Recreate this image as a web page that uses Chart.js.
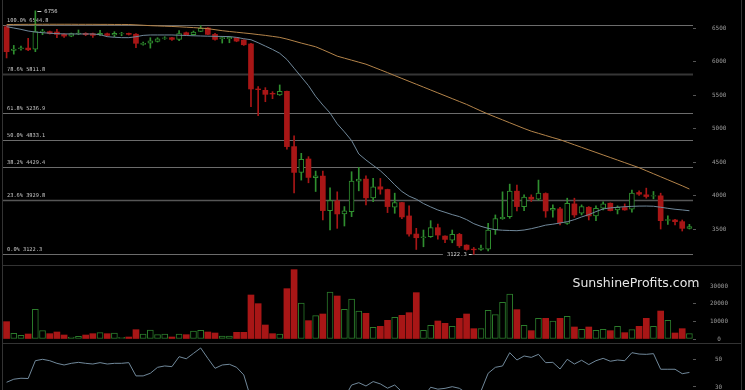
<!DOCTYPE html>
<html lang="en">
<head>
<meta charset="UTF-8">
<title>BTC daily - Fibonacci retracements</title>
<script src="https://cdn.jsdelivr.net/npm/chart.js"></script>
<style>
  body { margin: 0; background: #000; }
  .chart-wrap { position: relative; width: 745px; height: 390px; background: #000; }
</style>
</head>
<body>
<div class="chart-wrap"><canvas id="btcChart"></canvas></div>
<script>
// ===== price data (daily candles) =====
const opens = [6520,6165,6190,6200,6183,6440,6445,6440,6405,6380, 6410,6420,6415,6395,6415,6395,6410,6420,6407,6255,
  6275,6300,6345,6355,6330,6430,6400,6450,6500,6405, 6340,6340,6355,6320,6262,5590,5570,5525,5500,5555,
  4730,4345,4545,4265,4290,3775,3920,3725,3760,4215, 4245,3965,4130,4090,3825,3895,3695,3425,3370,3385,
  3520,3395,3335,3420,3260,3200,3195,3200,3490,3655, 3685,4065,3835,3975,3945,4030,3780,3800,3585,3875,
  3735,3825,3695,3810,3885,3785,3820,3795,4045,4010, 3990,3995,3630,3635,3610,3510];
const highs = [6535,6240,6230,6347,6756,6480,6455,6480,6415,6425, 6470,6430,6425,6465,6425,6445,6435,6425,6415,6290,
  6355,6355,6370,6360,6460,6440,6455,6535,6505,6420, 6375,6375,6360,6325,6270,5625,5610,5550,5650,5560,
  4890,4630,4580,4365,4365,4115,4055,3835,4355,4420, 4295,4255,4255,4095,4035,3900,3845,3510,3485,3625,
  3575,3400,3485,3435,3265,3225,3260,3585,3710,4055, 4170,4155,4010,4010,4230,4040,3860,3825,3960,3960,
  3860,3835,3845,3905,3890,3845,3875,4080,4070,4110, 4060,4035,3695,3645,3635,3570];
const lows = [6053,6110,6170,6160,6147,6400,6410,6355,6360,6370, 6400,6385,6360,6385,6380,6370,6385,6395,6207,6245,
  6200,6290,6330,6315,6310,6395,6390,6445,6400,6320, 6275,6280,6295,6240,5326,5190,5400,5445,5495,4690,
  4040,4230,4190,4060,3635,3485,3510,3545,3685,4070, 3860,3910,4020,3745,3735,3655,3395,3195,3235,3375,
  3350,3295,3295,3225,3135,3122.3,3180,3175,3420,3645, 3660,3770,3775,3910,3930,3675,3675,3560,3570,3675,
  3710,3635,3625,3785,3770,3725,3780,3750,4000,3960, 3950,3500,3570,3560,3470,3500];
const closes = [6147,6185,6205,6175,6446,6455,6420,6405,6380,6415, 6425,6400,6390,6420,6390,6420,6416,6405,6272,6270,
  6310,6340,6355,6330,6415,6400,6440,6495,6405,6330, 6356,6360,6305,6250,5590,5580,5510,5515,5555,4730,
  4345,4540,4270,4295,3775,3925,3725,3770,4215,4245, 3965,4130,4095,3835,3895,3680,3425,3370,3385,3520,
  3410,3345,3420,3250,3195,3190,3215,3485,3655,3675, 4065,3835,3975,3945,4035,3770,3810,3595,3885,3710,
  3835,3695,3810,3875,3775,3825,3785,4035,4020,3985, 4000,3625,3640,3610,3510,3535];
const volumes = [9850,3220,2080,2840,16860,4730,3030,3980,2270,1140, 1520,2270,3030,3600,3030,3410,950,1140,5300,2840,
  5110,2460,2840,1140,2840,2460,4550,4920,3980,3410, 1700,1700,3790,3790,25000,20080,7950,3030,2840,28600,
  39400,20450,10420,13260,14200,26700,24430,16860,22730,15900, 14580,6630,7200,10600,12300,13450,14960,26330,4920,7770,
  10230,8900,7200,11740,14200,5870,5870,16290,13830,20830, 25570,16670,7770,4730,11740,11740,10230,11740,12880,6820,
  5490,6820,4920,5490,4730,7200,3600,5300,7200,11740, 7200,15900,10600,3410,5870,3030];

// moving averages
const maShort = [6520,6500,6480,6455,6440,6430,6422,6416,6412,6411, 6411,6411,6411,6400,6371,6362,6356,6356,6370,6390,
  6396,6396,6396,6396,6392,6388,6384,6381,6378,6376, 6374,6372,6360,6340,6325,6280,6230,6180,6123,6030,
  5900,5770,5640,5480,5350,5232,5070,4950,4820,4620, 4530,4450,4370,4270,4160,4060,3990,3945,3880,3830,
  3784,3750,3715,3685,3640,3580,3540,3510,3490,3482, 3478,3475,3485,3505,3530,3558,3572,3590,3609,3640,
  3680,3715,3760,3800,3815,3825,3833,3838,3842,3843, 3840,3825,3809,3795,3785,3773];
const maLong = [6552,6553,6554,6555,6555,6556,6556,6556,6556,6556, 6555,6555,6555,6554,6554,6553,6553,6552,6547,6541,
  6535,6531,6527,6523,6518,6512,6506,6499,6490,6475, 6460,6448,6437,6426,6415,6402,6390,6375,6360,6335,
  6305,6275,6248,6220,6175,6128,6080,6050,6020,5990, 5960,5918,5876,5834,5790,5747,5704,5661,5618,5575,
  5532,5489,5446,5403,5360,5311,5262,5215,5172,5129, 5086,5043,5000,4960,4928,4896,4864,4833,4795,4757,
  4719,4681,4643,4605,4567,4529,4491,4453,4415,4370, 4325,4280,4235,4190,4145,4097];
const rsi = [33.4,35.6,36.3,36.1,49.0,50.0,49.0,47.1,45.9,47.1, 47.8,47.1,46.6,47.6,46.6,47.1,47.1,47.6,38.0,38.0,
  39.9,44.2,45.2,44.7,51.9,50.4,54.3,58.2,50.7,43.5, 45.9,46.4,44.2,38.7,21.5,19.0,18.5,18.8,21.0,14.5,
  12.0,17.5,16.0,17.0,13.5,17.0,16.5,22.0,31.4,33.1, 30.7,33.9,32.2,29.1,31.4,26.5,24.5,21.0,22.5,29.8,
  28.4,29.0,30.2,29.0,25.5,24.0,27.0,39.9,44.2,45.2, 54.8,49.5,52.4,51.4,53.6,47.6,47.8,43.0,50.0,46.6,
  49.3,46.2,49.0,50.7,48.6,49.5,49.0,54.8,53.8,53.6, 54.1,42.8,42.8,42.8,39.6,40.5];

const fibLevels = [6544.8, 5811.8, 5236.9, 4833.1, 4429.4, 3929.8, 3122.3];
const fibNames = ['100.0%', '78.6%', '61.8%', '50.0%', '38.2%', '23.6%', '0.0%'];
const priceTicks = [3500, 4000, 4500, 5000, 5500, 6000, 6500];
const volumeTicks = [0, 10000, 20000, 30000];
const rsiTicks = [30, 50];
const days = opens.map((_, i) => i + 1);

const RED = '#a81616';
const GREEN = '#2f8f2f';
const VOL_GREEN = '#2b7b2b';
const up = i => closes[i] >= opens[i];

const tickFont = { family: 'DejaVu Sans Mono', size: 6 };
const fixAxis = s => { s.width = 52; s.paddingTop = 0; s.paddingBottom = 0; };

// fib lines + labels, watermark
const fibPlugin = {
    id: 'fibLines',
    beforeDatasetsDraw(chart) {
        const { ctx, chartArea, scales } = chart;
        const y = scales.y;
        ctx.save();
        fibLevels.forEach((lvl, i) => {
            const py = Math.round(y.getPixelForValue(lvl)) + 0.5;
            if (i === 1) { ctx.strokeStyle = '#363636'; ctx.lineWidth = 2; }
            else if (i === 5) { ctx.strokeStyle = '#565656'; ctx.lineWidth = 1.5; }
            else { ctx.strokeStyle = '#6c6c6c'; ctx.lineWidth = 1; }
            ctx.beginPath();
            ctx.moveTo(chartArea.left, py);
            ctx.lineTo(chartArea.right, py);
            ctx.stroke();
            ctx.fillStyle = '#c8c8c8';
            ctx.font = '5.3px "DejaVu Sans Mono"';
            ctx.textBaseline = 'bottom';
            ctx.textAlign = 'left';
            ctx.fillText(fibNames[i] + ' ' + lvl.toFixed(1), chartArea.left + 4, py - 2);
        });

        // watermark
        const v = scales.yVol;
        ctx.fillStyle = '#e6e6e6';
        ctx.font = '12.5px "DejaVu Sans"';
        ctx.textAlign = 'center';
        ctx.textBaseline = 'middle';
        ctx.fillText('SunshineProfits.com', chartArea.right - 57, v.top + 19);
        ctx.restore();
    }
};

// high / low markers and panel frame
const markPlugin = {
    id: 'marks',
    afterDatasetsDraw(chart) {
        const { ctx, scales: { x, y } } = chart;
        ctx.save();
        ctx.font = '5.5px "DejaVu Sans Mono"';
        ctx.textBaseline = 'middle';

        const hi = highs.indexOf(Math.max(...highs));
        const hx = x.getPixelForValue(hi), hy = Math.round(y.getPixelForValue(highs[hi])) + 0.5;
        ctx.strokeStyle = '#cfcfcf'; ctx.lineWidth = 1;
        ctx.beginPath(); ctx.moveTo(hx + 2, hy); ctx.lineTo(hx + 6, hy); ctx.stroke();
        ctx.fillStyle = '#d8d8d8'; ctx.textAlign = 'left';
        ctx.fillText(String(highs[hi]), hx + 9, hy);

        const lo = lows.indexOf(Math.min(...lows));
        const lx = x.getPixelForValue(lo), ly = Math.round(y.getPixelForValue(lows[lo])) + 0.5;
        const txt = String(lows[lo]);
        const tw = ctx.measureText(txt).width;
        ctx.fillStyle = '#000';
        ctx.fillRect(lx - tw - 11, ly - 4, tw + 9, 8);
        ctx.fillStyle = '#cfcfcf'; ctx.textAlign = 'right';
        ctx.fillText(txt, lx - 7, ly);
        ctx.beginPath(); ctx.moveTo(lx - 5, ly); ctx.lineTo(lx - 2, ly); ctx.stroke();
        ctx.restore();
    },
    afterDraw(chart) {
        const { ctx, chartArea, scales } = chart;
        ctx.save();
        ctx.strokeStyle = '#333';
        ctx.lineWidth = 1;
        [scales.yVol.top, scales.yRsi.top].forEach(t => {
            const py = Math.round(t) + 0.5;
            ctx.beginPath(); ctx.moveTo(chartArea.left - 1, py); ctx.lineTo(742, py); ctx.stroke();
        });
        ctx.beginPath();
        ctx.moveTo(chartArea.left - 0.5, 0); ctx.lineTo(chartArea.left - 0.5, chartArea.bottom);
        ctx.moveTo(741.5, 0); ctx.lineTo(741.5, chartArea.bottom);
        ctx.stroke();
        ctx.restore();
    }
};

const axisTicks = (padding) => ({
    color: '#9a9a9a', font: tickFont, padding: padding, crossAlign: 'center',
    autoSkip: false, callback: v => String(v)
});

new Chart(document.getElementById('btcChart'), {
    type: 'bar',
    data: {
        labels: days,
        datasets: [
            {
                type: 'line', label: 'MA short', data: maShort, yAxisID: 'y',
                borderColor: '#70889a', borderWidth: 1, pointRadius: 0, tension: 0, order: 0
            },
            {
                type: 'line', label: 'MA long', data: maLong, yAxisID: 'y',
                borderColor: '#b4844a', borderWidth: 1, pointRadius: 0, tension: 0, order: 0
            },
            {
                label: 'body', data: opens.map((o, i) => [o, closes[i]]), yAxisID: 'y',
                grouped: false, barThickness: 5, borderSkipped: false, order: 1,
                backgroundColor: c => up(c.dataIndex) ? '#000' : RED,
                borderColor: c => up(c.dataIndex) ? GREEN : RED,
                borderWidth: c => up(c.dataIndex) ? 1 : 0
            },
            {
                label: 'wick', data: lows.map((l, i) => [l, highs[i]]), yAxisID: 'y',
                grouped: false, barThickness: 1, order: 2,
                backgroundColor: c => up(c.dataIndex) ? GREEN : RED
            },
            {
                label: 'Volume', data: volumes, yAxisID: 'yVol',
                grouped: false, barThickness: 6, borderSkipped: false, order: 1,
                backgroundColor: c => up(c.dataIndex) ? '#000' : RED,
                borderColor: c => up(c.dataIndex) ? VOL_GREEN : RED,
                borderWidth: c => up(c.dataIndex) ? 1 : 0
            },
            {
                type: 'line', label: 'RSI', data: rsi, yAxisID: 'yRsi',
                borderColor: '#70889a', borderWidth: 1, pointRadius: 0, tension: 0, order: 0
            }
        ]
    },
    options: {
        responsive: true,
        maintainAspectRatio: false,
        animation: false,
        layout: { padding: { left: 3, top: 0, right: 0, bottom: 0 } },
        plugins: { legend: { display: false }, tooltip: { enabled: false } },
        scales: {
            x: { type: 'category', offset: true, display: false, grid: { display: false } },
            y: {
                position: 'right', stack: 'panels', stackWeight: 265, min: 2963, max: 6918,
                afterBuildTicks: s => { s.ticks = priceTicks.map(v => ({ value: v })); },
                afterFit: fixAxis,
                grid: { drawOnChartArea: false, tickLength: 3, color: '#555' },
                border: { display: false },
                ticks: axisTicks(16)
            },
            yVol: {
                position: 'right', stack: 'panels', stackWeight: 78, min: -2270, max: 42045,
                afterBuildTicks: s => { s.ticks = volumeTicks.map(v => ({ value: v })); },
                afterFit: fixAxis,
                grid: { drawOnChartArea: false, tickLength: 3, color: '#555' },
                border: { display: false },
                ticks: axisTicks(14)
            },
            yRsi: {
                position: 'right', stack: 'panels', stackWeight: 47, min: 27.8, max: 61.8,
                afterBuildTicks: s => { s.ticks = rsiTicks.map(v => ({ value: v })); },
                afterFit: fixAxis,
                grid: { drawOnChartArea: false, tickLength: 3, color: '#555' },
                border: { display: false },
                ticks: axisTicks(19)
            }
        }
    },
    plugins: [fibPlugin, markPlugin]
});
</script>
</body>
</html>
